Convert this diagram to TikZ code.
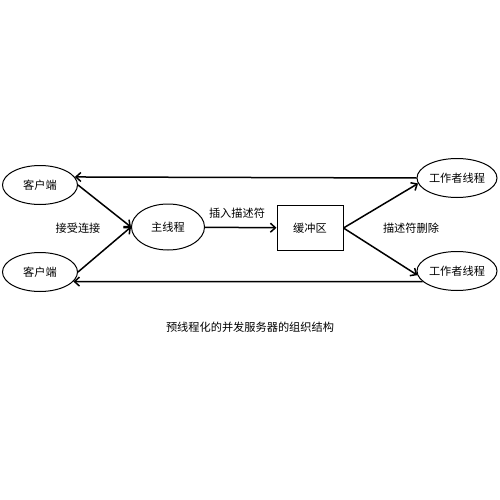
\documentclass[tikz,border=0pt]{standalone}
\usepackage{fontspec}
\setmainfont{Noto Sans CJK SC}
\usepackage{tikz}
\usetikzlibrary{arrows.meta, shapes.geometric}

\begin{document}
\begin{tikzpicture}[
        x=1pt, y=-1pt,
        thread/.style={ellipse, draw, line width=1pt, inner sep=0pt, minimum width=75pt, minimum height=39pt},
        worker/.style={thread, minimum width=80pt},
        buffer/.style={draw, line width=1pt, minimum width=66pt, minimum height=45pt},
        link/.style={-{Straight Barb[length=5pt,width=9pt]}, line width=1.5pt},
        every node/.style={font=\fontsize{11.2}{13}\selectfont}
    ]
        \useasboundingbox[fill=white] (0,0) rectangle (500,500);

        % Nodes
        \node[thread] (client1) at (40,185) {客户端};
        \node[thread] (client2) at (40,272) {客户端};
        \node[thread, minimum width=73pt, minimum height=46pt] (master) at (168,227) {主线程};
        \node[buffer] (buf) at (310,228) {缓冲区};
        \node[worker] (worker1) at (457,178) {工作者线程};
        \node[worker] (worker2) at (457,271) {工作者线程};

        % Labels
        \node (accept) at (78,228) {接受连接};
        \node (insert) at (237,213) {插入描述符};
        \node (remove) at (411,228) {描述符删除};
        \node (caption) at (250,327) {预线程化的并发服务器的组织结构};

        % Edges
        \draw[link] (client1.east) -- (master.west);
        \draw[link] (client2.east) -- (master.west);
        \draw[link] (master) -- (buf);
        \draw[link] (buf.east) -- (worker1.188);
        \draw[link] (buf.east) -- (worker2.186);
        \draw[link] (worker1.west) -- (client1.13);
        \draw[link] (worker2.197) -- (client2.344);

    \end{tikzpicture}
\end{document}
